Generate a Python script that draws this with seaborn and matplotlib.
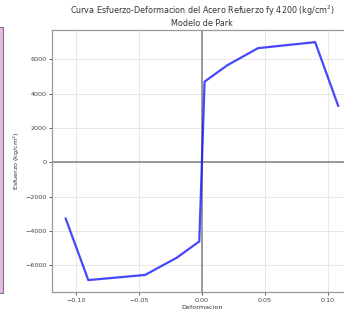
import matplotlib
matplotlib.use("Agg")
import matplotlib.pyplot as plt
import matplotlib.patches as mpatches
import seaborn as sns
import pandas as pd

# Park steel model: strain / stress pairs (kg/cm^2), compression then tension
deformacion = [-0.108, -0.090, -0.045, -0.020, -0.0021, 0.0, 0.0021, 0.020, 0.0444, 0.0897, 0.108]
esfuerzo = [-3250, -6850, -6550, -5550, -4600, 0, 4700, 5650, 6650, 7000, 3280]

titulo = "Curva Esfuerzo-Deformacion del Acero Refuerzo fy 4200 (kg/cm$^2$)\nModelo de Park"
etiqueta_x = "Deformacion"
etiqueta_y = "Esfuerzo (kg/cm$^2$)"

df = pd.DataFrame({"Deformacion": deformacion, "Esfuerzo": esfuerzo})

sns.set_theme(style="ticks")
plt.rcParams["font.family"] = ["DejaVu Sans"]

fig = plt.figure(figsize=(3.44, 3.2), dpi=100)
ax = fig.add_axes([0.151, 0.0875, 0.872, 0.818])

# neighbouring panel edge on the left
fig.patches.append(mpatches.Rectangle((-0.02, 0.085), 0.029, 0.83, transform=fig.transFigure,
                                      facecolor="#e6b8e6", edgecolor="#777777", linewidth=0.8))

sns.lineplot(data=df, x="Deformacion", y="Esfuerzo", sort=False, estimator=None,
             color="blue", alpha=0.72, linewidth=1.6, ax=ax)

ax.axhline(0, color="gray", linewidth=1.1, zorder=1)
ax.axvline(0, color="gray", linewidth=1.1, zorder=1)
ax.grid(True, color="#dddddd", linewidth=0.6, alpha=0.8)
ax.set_axisbelow(True)

ax.set_xticks([-0.10, -0.05, 0.00, 0.05, 0.10])
ax.set_yticks([-6000, -4000, -2000, 0, 2000, 4000, 6000])
ax.tick_params(labelsize=4.6, length=2, width=0.6, pad=2, colors="#444444")
for s in ax.spines.values():
    s.set_color("#999999")
    s.set_linewidth(0.9)

ax.set_title(titulo, fontsize=5.8, pad=3, color="#333333")
ax.set_xlabel(etiqueta_x, fontsize=4.6, labelpad=2, color="#333333")
ax.set_ylabel(etiqueta_y, fontsize=4.6, labelpad=2, color="#333333")

fig.savefig("out.png", dpi=100)
